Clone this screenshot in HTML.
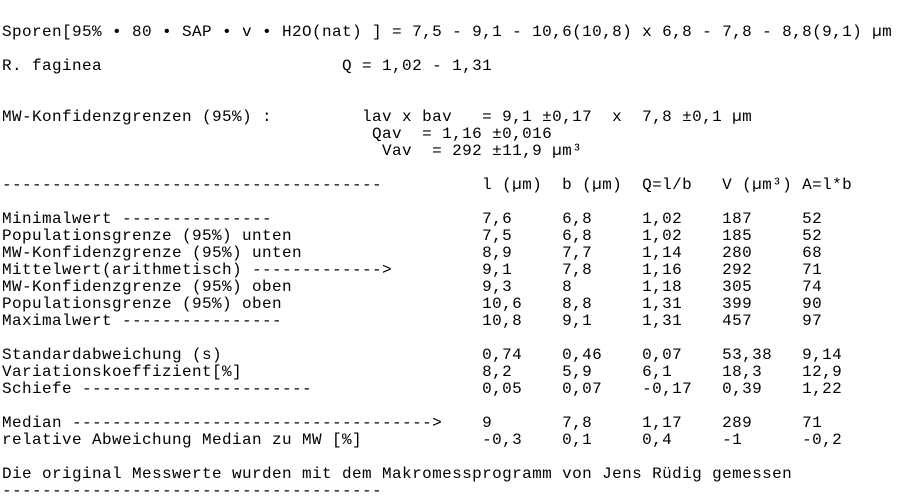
<!DOCTYPE html>
<html><head><meta charset="utf-8"><style>
html,body{margin:0;padding:0;background:#fff;width:899px;height:499px;overflow:hidden}
pre{position:absolute;left:2px;top:24.2px;margin:0;font-family:"Liberation Mono",monospace;font-size:16px;letter-spacing:0.4px;line-height:17px;color:#000}
</style></head><body><pre>Sporen[95% • 80 • SAP • v • H2O(nat) ] = 7,5 - 9,1 - 10,6(10,8) x 6,8 - 7,8 - 8,8(9,1) µm

R. faginea                        Q = 1,02 - 1,31


MW-Konfidenzgrenzen (95%) :         lav x bav   = 9,1 ±0,17  x  7,8 ±0,1 µm
                                     Qav  = 1,16 ±0,016
                                      Vav  = 292 ±11,9 µm³

--------------------------------------          l (µm)  b (µm)  Q=l/b   V (µm³) A=l*b

Minimalwert ---------------                     7,6     6,8     1,02    187     52
Populationsgrenze (95%) unten                   7,5     6,8     1,02    185     52
MW-Konfidenzgrenze (95%) unten                  8,9     7,7     1,14    280     68
Mittelwert(arithmetisch) -------------&gt;         9,1     7,8     1,16    292     71
MW-Konfidenzgrenze (95%) oben                   9,3     8       1,18    305     74
Populationsgrenze (95%) oben                    10,6    8,8     1,31    399     90
Maximalwert ----------------                    10,8    9,1     1,31    457     97

Standardabweichung (s)                          0,74    0,46    0,07    53,38   9,14
Variationskoeffizient[%]                        8,2     5,9     6,1     18,3    12,9
Schiefe -----------------------                 0,05    0,07    -0,17   0,39    1,22

Median ------------------------------------&gt;    9       7,8     1,17    289     71
relative Abweichung Median zu MW [%]            -0,3    0,1     0,4     -1      -0,2

Die original Messwerte wurden mit dem Makromessprogramm von Jens Rüdig gemessen
--------------------------------------</pre></body></html>
